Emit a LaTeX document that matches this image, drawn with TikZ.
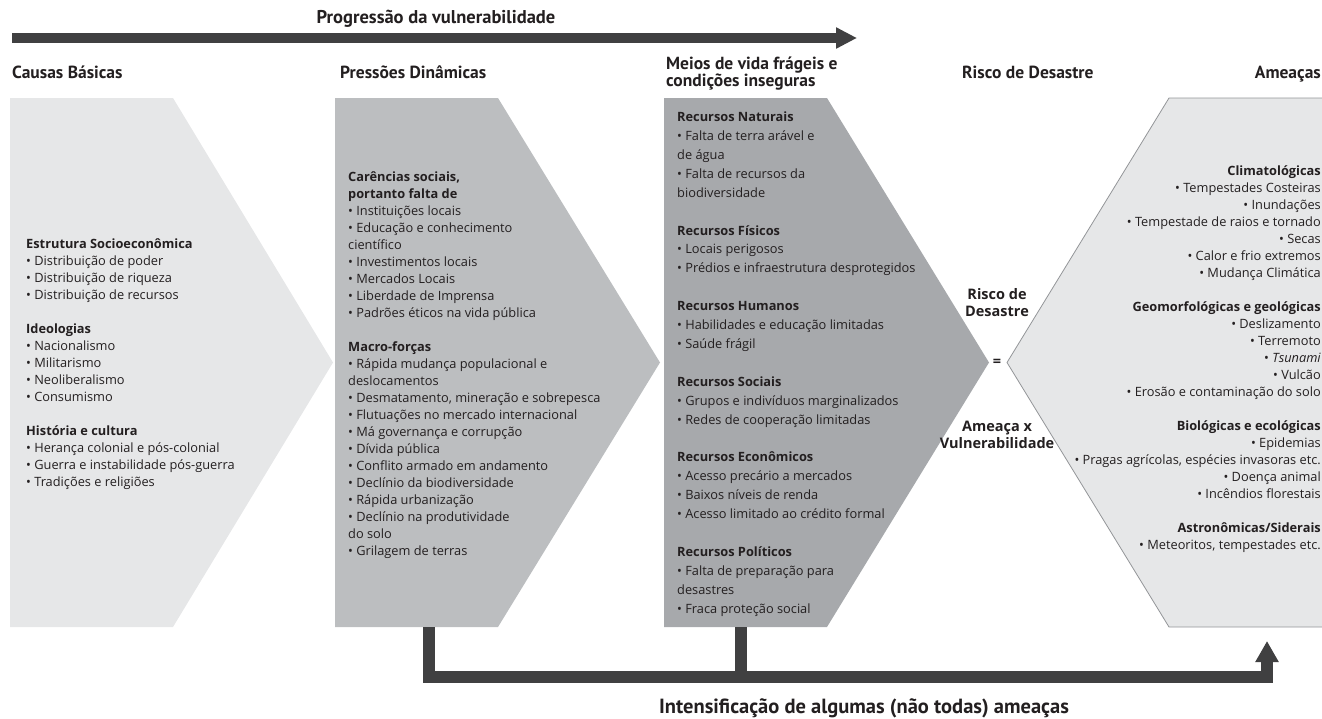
\documentclass[tikz,border=0pt]{standalone}
\usepackage{fontspec}
\setmainfont{Open Sans}
\newfontfamily\headfont{PT Sans}
\usetikzlibrary{arrows.meta}
\definecolor{causa}{HTML}{E6E7E8}
\definecolor{pressao}{HTML}{BCBEC0}
\definecolor{meio}{HTML}{A7A9AC}
\definecolor{borda}{HTML}{939598}
\definecolor{escuro}{HTML}{404041}
\definecolor{texto}{HTML}{231F20}
\tikzstyle{titulo}=[font=\headfont\bfseries\fontsize{18.5}{20}\selectfont, inner sep=0pt, anchor=base]
\tikzstyle{cabeca}=[font=\headfont\bfseries\fontsize{17.5}{17}\selectfont, inner sep=0pt, align=left, anchor=base west]
\tikzstyle{lista}=[font=\fontsize{12.8}{17}\selectfont, inner sep=0pt, align=left, anchor=base west]
\tikzstyle{risco}=[font=\bfseries\fontsize{14.5}{16.5}\selectfont, inner sep=0pt, align=center, anchor=base]
\tikzstyle{setagrossa}=[draw=escuro, line join=miter]

\begin{document}
\begin{tikzpicture}[x=1pt, y=-1pt, text=texto]
\useasboundingbox (0,0) rectangle (1322,718);
\clip (0,0) rectangle (1322,718);
\fill[causa]   (10,98) -- (173,98) -- (333,362.5) -- (173,627) -- (10,627) -- cycle;
\fill[pressao] (335,98) -- (498,98) -- (660,362.5) -- (498,627) -- (335,627) -- cycle;
\fill[meio]    (664,98) -- (827,98) -- (989,362.5) -- (827,627) -- (664,627) -- cycle;
\filldraw[fill=causa, draw=borda, line width=0.8pt] (1007,362.5) -- (1169,98) -- (1480,98) -- (1641,362.5) -- (1480,627) -- (1169,627) -- cycle;

\coordinate (pa) at (12,38);
\coordinate (pb) at (857,38);
\coordinate (p2) at (429,627);
\coordinate (p3) at (741,627);
\coordinate (be) at (1267,677);
\coordinate (pe) at (1267,641);
\draw[setagrossa, line width=10pt, -{Triangle[length=21pt, width=20pt]}] (pa) -- (pb);
\draw[setagrossa, line width=12pt, -{Triangle[length=21pt, width=22pt]}] (p2) -- (p2 |- be) -- (be) -- (pe);
\draw[setagrossa, line width=12pt] (p3) -- (p3 |- be);

\node[titulo] (prog) at (436,23.5) {Progressão da vulnerabilidade};
\node[titulo, font=\headfont\bfseries\fontsize{20.5}{22}\selectfont] (intens) at (864,713) {Intensificação de algumas (não todas) ameaças};

\node[cabeca] (hcausas) at (12,78) {Causas Básicas};
\node[cabeca] (hpressoes) at (340,78) {Pressões Dinâmicas};
\node[cabeca] (hmeios) at (666,86) {Meios de vida frágeis e\\condições inseguras};
\node[cabeca] (hrisco) at (962,78) {Risco de Desastre};
\node[cabeca, anchor=base east] (hameacas) at (1321,78) {Ameaças};

\node[lista] (causas) at (26,486.5) {\textbf{Estrutura Socioeconômica}\\
• Distribuição de poder\\
• Distribuição de riqueza\\
• Distribuição de recursos\\[17pt]
\textbf{Ideologias}\\
• Nacionalismo\\
• Militarismo\\
• Neoliberalismo\\
• Consumismo\\[17pt]
\textbf{História e cultura}\\
• Herança colonial e pós-colonial\\
• Guerra e instabilidade pós-guerra\\
• Tradições e religiões};

\node[lista] (pressoes) at (348,555.5) {\textbf{Carências sociais,}\\
\textbf{portanto falta de}\\
• Instituições locais\\
• Educação e conhecimento\\
científico\\
• Investimentos locais\\
• Mercados Locais\\
• Liberdade de Imprensa\\
• Padrões éticos na vida pública\\[17pt]
\textbf{Macro-forças}\\
• Rápida mudança populacional e\\
deslocamentos\\
• Desmatamento, mineração e sobrepesca\\
• Flutuações no mercado internacional\\
• Má governança e corrupção\\
• Dívida pública\\
• Conflito armado em andamento\\
• Declínio da biodiversidade\\
• Rápida urbanização\\
• Declínio na produtividade\\
do solo\\
• Grilagem de terras};

\node[lista, font=\fontsize{12.8}{18.9}\selectfont] (meios) at (677,613) {\textbf{Recursos Naturais}\\
• Falta de terra arável e\\
de água\\
• Falta de recursos da\\
biodiversidade\\[18.9pt]
\textbf{Recursos Físicos}\\
• Locais perigosos\\
• Prédios e infraestrutura desprotegidos\\[18.9pt]
\textbf{Recursos Humanos}\\
• Habilidades e educação limitadas\\
• Saúde frágil\\[18.9pt]
\textbf{Recursos Sociais}\\
• Grupos e indivíduos marginalizados\\
• Redes de cooperação limitadas\\[18.9pt]
\textbf{Recursos Econômicos}\\
• Acesso precário a mercados\\
• Baixos níveis de renda\\
• Acesso limitado ao crédito formal\\[18.9pt]
\textbf{Recursos Políticos}\\
• Falta de preparação para\\
desastres\\
• Fraca proteção social};

\node[risco] (risco) at (997,316) {Risco de\\Desastre};
\node[risco, anchor=center] (igual) at (997,362.5) {=};
\node[risco] (ameaca) at (997,448) {Ameaça x\\Vulnerabilidade};

\node[lista, align=right, anchor=base east] (ameacas) at (1321,549) {\textbf{Climatológicas}\\
• Tempestades Costeiras\\
• Inundações\\
• Tempestade de raios e tornado\\
• Secas\\
• Calor e frio extremos\\
• Mudança Climática\\[17pt]
\textbf{Geomorfológicas e geológicas}\\
• Deslizamento\\
• Terremoto\\
• \textit{Tsunami}\\
• Vulcão\\
• Erosão e contaminação do solo\\[17pt]
\textbf{Biológicas e ecológicas}\\
• Epidemias\\
• Pragas agrícolas, espécies invasoras etc.\\
• Doença animal\\
• Incêndios florestais\\[17pt]
\textbf{Astronômicas/Siderais}\\
• Meteoritos, tempestades etc.};
\end{tikzpicture}
\end{document}
